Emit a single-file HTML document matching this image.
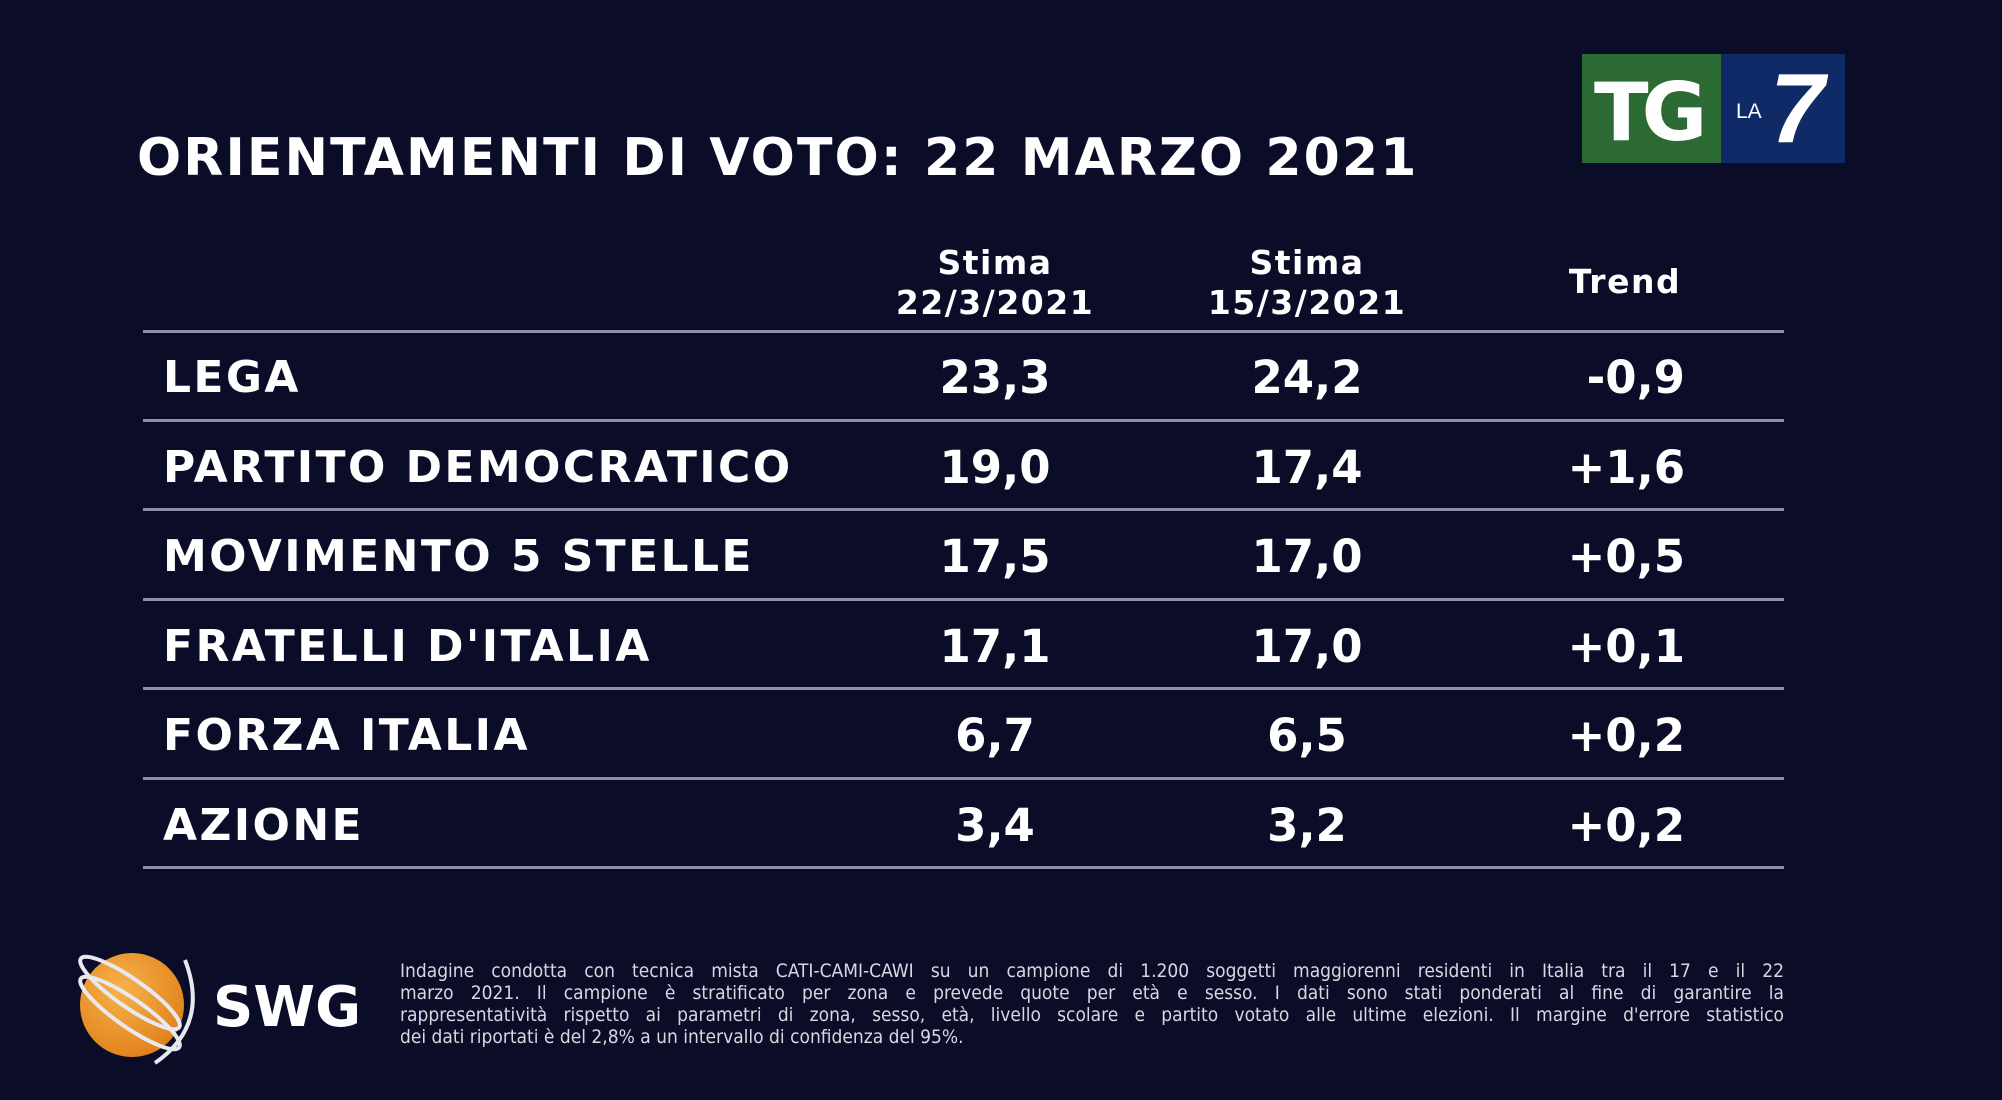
<!DOCTYPE html>
<html><head><meta charset="utf-8"><style>
html,body{margin:0;padding:0}
body{width:2002px;height:1100px;background:#0a0c28;position:relative;overflow:hidden;font-family:"DejaVu Sans","Liberation Sans",sans-serif;color:#fff}
.a{position:absolute;white-space:nowrap}
.title{left:137px;top:128px;font-size:52px;font-weight:bold;letter-spacing:2.1px}
.line{position:absolute;left:143px;width:1641px;height:3px;background:#8a90a8}
.lab{left:163px;font-size:44px;font-weight:bold;letter-spacing:2.4px}
.v{font-size:45px;font-weight:bold;text-align:center;width:240px}
.h{font-size:33px;font-weight:bold;text-align:center;width:300px;line-height:40px;letter-spacing:1.5px}
.foot{position:absolute;left:400px;width:1384px;font-size:19px;font-family:"DejaVu Sans Condensed","DejaVu Sans",sans-serif;font-stretch:condensed;color:#d8d8e0;text-align:justify;text-align-last:justify;white-space:nowrap;line-height:22px}
</style></head><body>
<div class="a title">ORIENTAMENTI DI VOTO: 22 MARZO 2021</div>

<div style="position:absolute;left:1582px;top:54px;width:139px;height:109px;background:#2b6a32"></div>
<div style="position:absolute;left:1721px;top:54px;width:124px;height:109px;background:#0f2a66"></div>
<div class="a" style="left:1594px;top:66px;font-size:80px;font-weight:bold;letter-spacing:-7px">TG</div>
<div class="a" style="left:1736px;top:100px;font-size:21px;font-family:'Liberation Sans',sans-serif">LA</div>
<div class="a" style="left:1770px;top:52px;font-size:98px;font-weight:bold;font-style:italic;font-family:'Liberation Sans',sans-serif">7</div>

<div class="a h" style="left:845px;top:243px">Stima<br>22/3/2021</div>
<div class="a h" style="left:1157px;top:243px">Stima<br>15/3/2021</div>
<div class="a h" style="left:1475px;top:262px">Trend</div>

<div class="line" style="top:330px"></div>
<div class="line" style="top:419px"></div>
<div class="line" style="top:508px"></div>
<div class="line" style="top:598px"></div>
<div class="line" style="top:687px"></div>
<div class="line" style="top:777px"></div>
<div class="line" style="top:866px"></div>

<div class="a lab" style="top:352px">LEGA</div>
<div class="a lab" style="top:442px">PARTITO DEMOCRATICO</div>
<div class="a lab" style="top:531px">MOVIMENTO 5 STELLE</div>
<div class="a lab" style="top:621px">FRATELLI D'ITALIA</div>
<div class="a lab" style="top:710px">FORZA ITALIA</div>
<div class="a lab" style="top:800px">AZIONE</div>

<div class="a v" style="left:875px;top:351px">23,3</div>
<div class="a v" style="left:875px;top:441px">19,0</div>
<div class="a v" style="left:875px;top:530px">17,5</div>
<div class="a v" style="left:875px;top:620px">17,1</div>
<div class="a v" style="left:875px;top:709px">6,7</div>
<div class="a v" style="left:875px;top:799px">3,4</div>

<div class="a v" style="left:1187px;top:351px">24,2</div>
<div class="a v" style="left:1187px;top:441px">17,4</div>
<div class="a v" style="left:1187px;top:530px">17,0</div>
<div class="a v" style="left:1187px;top:620px">17,0</div>
<div class="a v" style="left:1187px;top:709px">6,5</div>
<div class="a v" style="left:1187px;top:799px">3,2</div>

<div class="a v" style="left:1505px;top:351px;text-align:right;width:180px">-0,9</div>
<div class="a v" style="left:1505px;top:441px;text-align:right;width:180px">+1,6</div>
<div class="a v" style="left:1505px;top:530px;text-align:right;width:180px">+0,5</div>
<div class="a v" style="left:1505px;top:620px;text-align:right;width:180px">+0,1</div>
<div class="a v" style="left:1505px;top:709px;text-align:right;width:180px">+0,2</div>
<div class="a v" style="left:1505px;top:799px;text-align:right;width:180px">+0,2</div>

<svg style="position:absolute;left:60px;top:945px" width="145" height="125" viewBox="0 0 145 125">
<defs><radialGradient id="g" cx="40%" cy="35%" r="70%"><stop offset="0" stop-color="#f7b24a"/><stop offset="1" stop-color="#e0801a"/></radialGradient></defs>
<circle cx="72" cy="60" r="52" fill="url(#g)"/>
<g fill="none" stroke="#e8e8f0" stroke-width="4">
<ellipse cx="70" cy="48" rx="60" ry="14" transform="rotate(35 70 48)"/>
<ellipse cx="70" cy="68" rx="60" ry="14" transform="rotate(35 70 68)"/>
<path d="M125 15 Q150 80 95 118" />
</g></svg>
<div class="a" style="left:213px;top:975px;font-size:56px;font-weight:bold">SWG</div>

<div class="foot" style="top:960px">Indagine condotta con tecnica mista CATI-CAMI-CAWI su un campione di 1.200 soggetti maggiorenni residenti in Italia tra il 17 e il 22</div>
<div class="foot" style="top:982px">marzo 2021. Il campione è stratificato per zona e prevede quote per età e sesso. I dati sono stati ponderati al fine di garantire la</div>
<div class="foot" style="top:1004px">rappresentatività rispetto ai parametri di zona, sesso, età, livello scolare e partito votato alle ultime elezioni. Il margine d'errore statistico</div>
<div class="foot" style="top:1026px;text-align-last:left">dei dati riportati è del 2,8% a un intervallo di confidenza del 95%.</div>
</body></html>
